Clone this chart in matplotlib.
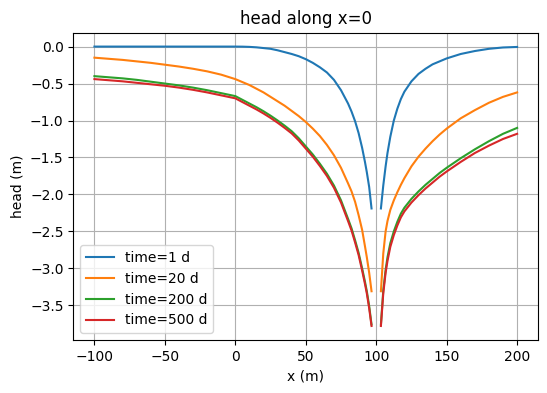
import numpy as np
import matplotlib
matplotlib.use("Agg")
import matplotlib.pyplot as plt

# =========================
# Data (well at x=100, no value there)
# =========================
x = [-100, -90, -80, -70, -60, -50, -40, -30, -20, -10, 0,
     5, 10, 15, 20, 25, 30, 35, 40, 45, 50, 55, 60, 65, 70, 75, 80,
     82.5, 85, 87.5, 90, 92, 93.33, 95, 96.67,
     100,
     103.33, 105, 106.67, 108, 110, 112.5, 115, 117.5, 120, 125, 130, 135,
     140, 145, 150, 160, 170, 180, 190, 200]

head_1d = [0.0, 0.0, 0.0, 0.0, 0.0, 0.0, 0.0, 0.0, 0.0, 0.0, 0.0,
           -0.001, -0.004, -0.010, -0.02, -0.03, -0.05, -0.075, -0.10, -0.13,
           -0.17, -0.22, -0.28, -0.35, -0.45, -0.59, -0.77,
           -0.88, -1.01, -1.17, -1.37, -1.56, -1.70, -1.90, -2.19,
           np.nan,
           -2.19, -1.88, -1.62, -1.44, -1.22, -1.00, -0.84, -0.71, -0.61, -0.47,
           -0.37, -0.30, -0.24, -0.20, -0.16, -0.10, -0.06, -0.03, -0.012, -0.005]

head_20d = [-0.15, -0.165, -0.18, -0.20, -0.22, -0.245, -0.27, -0.30, -0.335, -0.38, -0.44,
            -0.48, -0.52, -0.57, -0.62, -0.68, -0.74, -0.80, -0.87, -0.94,
            -1.02, -1.11, -1.21, -1.33, -1.47, -1.64, -1.85,
            -1.96, -2.10, -2.28, -2.48, -2.70, -2.85, -3.06, -3.31,
            np.nan,
            -3.31, -2.80, -2.50, -2.36, -2.21, -2.08, -1.97, -1.87, -1.78, -1.62,
            -1.49, -1.38, -1.28, -1.19, -1.11, -0.97, -0.86, -0.76, -0.68, -0.62]

head_200d = [-0.40, -0.415, -0.43, -0.45, -0.475, -0.50, -0.525, -0.555, -0.59, -0.63, -0.67,
             -0.72, -0.77, -0.82, -0.875, -0.935, -1.00, -1.07, -1.145, -1.24,
             -1.35, -1.46, -1.585, -1.72, -1.88, -2.08, -2.33,
             -2.46, -2.62, -2.79, -3.00, -3.18, -3.31, -3.51, -3.76,
             np.nan,
             -3.76, -3.30, -3.02, -2.85, -2.66, -2.50, -2.37, -2.26, -2.18, -2.06,
             -1.96, -1.87, -1.79, -1.71, -1.64, -1.51, -1.39, -1.28, -1.18, -1.10]

head_500d = [-0.44, -0.455, -0.47, -0.49, -0.51, -0.53, -0.555, -0.585, -0.62, -0.66, -0.70,
             -0.75, -0.80, -0.85, -0.905, -0.965, -1.03, -1.10, -1.175, -1.27,
             -1.38, -1.49, -1.615, -1.75, -1.91, -2.11, -2.36,
             -2.49, -2.65, -2.82, -3.03, -3.21, -3.34, -3.54, -3.78,
             np.nan,
             -3.78, -3.34, -3.06, -2.90, -2.71, -2.55, -2.42, -2.31, -2.23, -2.11,
             -2.01, -1.92, -1.84, -1.76, -1.69, -1.56, -1.44, -1.34, -1.25, -1.18]

times = [1, 20, 200, 500]
heads = [head_1d, head_20d, head_200d, head_500d]

# =========================
# Plot
# =========================
fig = plt.figure(figsize=(5.47, 3.93), dpi=100)
ax = fig.add_axes([0.134, 0.135, 0.850, 0.782])

for t, h in zip(times, heads):
    ax.plot(x, h, label=f"time={t} d")

ax.set_xlabel("x (m)")
ax.set_ylabel("head (m)")
ax.set_title("head along x=0")
ax.legend(loc="lower left")
ax.grid()

fig.savefig("out.png", dpi=100)
